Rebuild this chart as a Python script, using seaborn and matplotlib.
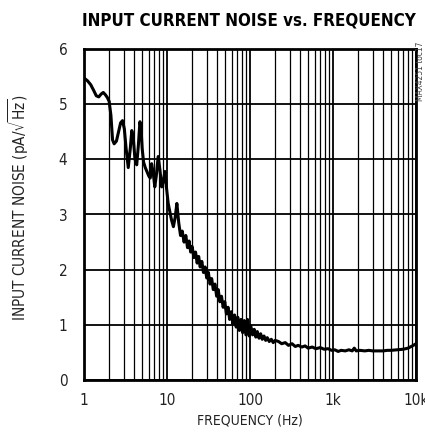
import pandas as pd
import seaborn as sns
import matplotlib
matplotlib.use("Agg")
import matplotlib.pyplot as plt
from matplotlib.ticker import FixedLocator, LogLocator, NullFormatter

# Data (frequency in Hz, noise in pA/sqrt(Hz))
freq_hz = [1.0, 1.1, 1.2, 1.3, 1.4, 1.5, 1.6, 1.7, 1.8, 1.9, 2.0, 2.1, 2.2, 2.3,
           2.45, 2.6, 2.75, 2.9, 3.05, 3.2, 3.4, 3.6, 3.75, 3.9, 4.1, 4.3, 4.5,
           4.7, 4.85, 5.0, 5.2, 5.45, 5.7, 6.0, 6.25, 6.5, 6.8, 7.1, 7.4, 7.8,
           8.2, 8.6, 9.0, 9.4, 9.8, 10.3, 10.8, 11.3, 11.9, 12.5, 13.1, 13.8,
           14.5, 15.2, 16, 16.8, 17.6, 18.4, 19.2, 20, 21, 22, 23, 24, 25,
           26.2, 27.4, 28.7, 30, 31.4, 32.9, 34.4, 36, 37.7, 39.5, 41.3, 43.2,
           45.2, 47.3, 49.5, 51.8, 54.2, 56.7, 59.3, 62, 65, 68, 71, 74.3,
           77.7, 81.3, 85, 89, 93, 97.5, 102, 107, 112, 117, 122, 128, 134,
           140, 147, 154, 161, 170, 180, 190, 200, 220, 240, 265, 290, 320,
           350, 380, 420, 460, 500, 560, 620, 700, 780, 870, 960, 1050, 1150,
           1250, 1400, 1550, 1700, 1800, 1900, 2100, 2400, 2700, 3000, 3500,
           4000, 4500, 5000, 6000, 7000, 8000, 9000, 10000]
noise_pa = [5.47, 5.42, 5.35, 5.25, 5.15, 5.13, 5.18, 5.21, 5.17, 5.12, 5.05,
            4.80, 4.35, 4.28, 4.33, 4.50, 4.66, 4.70, 4.55, 4.20, 3.85, 4.20,
            4.52, 4.40, 4.00, 3.90, 4.25, 4.68, 4.55, 4.20, 3.95, 3.85, 3.78,
            3.70, 3.66, 3.92, 3.75, 3.50, 3.70, 4.05, 3.80, 3.50, 3.60, 3.78,
            3.50, 3.20, 3.05, 2.90, 2.78, 2.95, 3.20, 2.85, 2.62, 2.70, 2.50,
            2.62, 2.40, 2.52, 2.32, 2.42, 2.22, 2.32, 2.12, 2.24, 2.05, 2.15,
            1.95, 2.05, 1.85, 1.95, 1.74, 1.84, 1.64, 1.74, 1.52, 1.64, 1.42,
            1.52, 1.32, 1.42, 1.20, 1.32, 1.10, 1.24, 1.02, 1.18, 0.96, 1.14,
            0.90, 1.10, 0.86, 1.08, 0.82, 1.10, 0.80, 0.98, 0.82, 0.92, 0.78,
            0.88, 0.76, 0.84, 0.74, 0.80, 0.72, 0.77, 0.70, 0.74, 0.68, 0.72,
            0.70, 0.66, 0.68, 0.63, 0.66, 0.61, 0.63, 0.60, 0.62, 0.58, 0.60,
            0.57, 0.59, 0.56, 0.57, 0.54, 0.55, 0.52, 0.54, 0.53, 0.55, 0.53,
            0.58, 0.53, 0.54, 0.53, 0.54, 0.53, 0.53, 0.53, 0.54, 0.54, 0.55,
            0.56, 0.58, 0.62, 0.66]

x_ticks = [1, 10, 100, 1000, 10000]
x_labels = ["1", "10", "100", "1k", "10k"]
y_ticks = [0, 1, 2, 3, 4, 5, 6]

df = pd.DataFrame({"freq": freq_hz, "noise": noise_pa})

sns.set_theme(style="white")
plt.rcParams["font.family"] = ["DejaVu Sans", "Liberation Sans"]
plt.rcParams["font.stretch"] = "condensed"

fig = plt.figure(figsize=(4.25, 4.4), dpi=100)
ax = fig.add_axes([0.198, 0.136, 0.781, 0.753])

sns.lineplot(data=df, x="freq", y="noise", ax=ax, color="black", lw=2.2, sort=False)

ax.set_xscale("log")
ax.set_xlim(1, 10000)
ax.set_ylim(0, 6)

ax.xaxis.set_major_locator(FixedLocator(x_ticks))
ax.set_xticklabels(x_labels)
ax.xaxis.set_minor_locator(LogLocator(base=10, subs=[2, 3, 4, 5, 6, 7, 8, 9]))
ax.xaxis.set_minor_formatter(NullFormatter())
ax.set_yticks(y_ticks)

ax.grid(which="major", axis="both", color="black", lw=1.3)
ax.grid(which="minor", axis="x", color="black", lw=0.9)
ax.set_axisbelow(True)
ax.tick_params(which="both", length=0, labelsize=11, colors="#222222")
ax.tick_params(axis="y", pad=12)
ax.tick_params(axis="x", pad=9)

for s in ax.spines.values():
    s.set_color("black")
    s.set_linewidth(2)

ax.set_xlabel("FREQUENCY (Hz)", fontsize=10, color="#222222", labelpad=4)
ax.set_ylabel(r"INPUT CURRENT NOISE (pA/$\sqrt{\mathrm{Hz}}$)", fontsize=11,
              color="#222222", labelpad=18)
ax.yaxis.set_label_coords(-0.16, 0.52)

fig.text(0.585, 0.953, "INPUT CURRENT NOISE vs. FREQUENCY", ha="center", va="center",
         fontsize=12.2, fontweight="heavy", color="black")
fig.text(0.99, 0.905, "MAX4251 toc17", rotation=90, ha="center", va="top",
         fontsize=6, color="#444444")

fig.savefig("out.png", dpi=100)
